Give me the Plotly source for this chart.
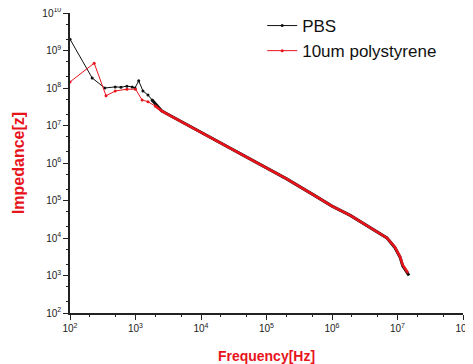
import plotly.graph_objects as go

# ---- data ----
freq_pbs = [100, 218, 340, 490, 600, 740, 890, 980, 1120, 1300, 1550, 1790,
            2500, 3162, 5000, 1e4, 2e4, 5e4, 1e5, 2e5, 5e5, 1e6, 1.9e6,
            3.8e6, 6.9e6, 9.1e6, 1.1e7, 1.2e7, 1.4e7, 1.5e7]
z_pbs = [2.0e9, 1.85e8, 1.0e8, 1.07e8, 1.05e8, 1.12e8, 1.07e8, 1.0e8, 1.55e8,
         8.3e7, 6.5e7, 4.8e7,
         2.46e7, 1.96e7, 1.27e7, 6.58e6, 3.40e6, 1.43e6, 7.38e5, 3.82e5,
         1.48e5, 7.1e4, 4.0e4, 1.95e4, 1.0e4, 5.6e3, 3.0e3, 1.8e3, 1.2e3, 1.0e3]

freq_ps = [100, 234, 355, 490, 740, 1000, 1260, 1550, 2000,
           2500, 3162, 5000, 1e4, 2e4, 5e4, 1e5, 2e5, 5e5, 1e6, 1.9e6,
           3.8e6, 6.9e6, 9.1e6, 1.1e7, 1.2e7, 1.45e7]
z_ps = [1.45e8, 4.6e8, 6.2e7, 8.3e7, 9.3e7, 9.3e7, 4.8e7, 4.3e7, 3.3e7,
        2.46e7, 1.96e7, 1.27e7, 6.58e6, 3.40e6, 1.43e6, 7.38e5, 3.82e5,
        1.48e5, 7.1e4, 4.0e4, 1.95e4, 1.0e4, 5.75e3, 3.1e3, 1.9e3, 1.17e3]

series_names = ["PBS", "10um polystyrene"]
x_tickvals = [1e2, 1e3, 1e4, 1e5, 1e6, 1e7, 1e8]
x_ticktext = ["10<sup>2</sup>", "10<sup>3</sup>", "10<sup>4</sup>", "10<sup>5</sup>",
              "10<sup>6</sup>", "10<sup>7</sup>", "10<sup>8</sup>"]
y_tickvals = [1e2, 1e3, 1e4, 1e5, 1e6, 1e7, 1e8, 1e9, 1e10]
y_ticktext = ["10<sup>2</sup>", "10<sup>3</sup>", "10<sup>4</sup>", "10<sup>5</sup>",
              "10<sup>6</sup>", "10<sup>7</sup>", "10<sup>8</sup>", "10<sup>9</sup>",
              "10<sup>10</sup>"]

BLACK = "#111111"
RED = "#e8141c"
FONT = "Liberation Sans, Arial, sans-serif"

fig = go.Figure()

def add_series(freq, z, name, color, split, dense_width):
    # sparse low-frequency part (thin line with dots)
    fig.add_trace(go.Scatter(
        x=freq[:split + 1], y=z[:split + 1], name=name, mode="lines+markers",
        line=dict(color=color, width=1), marker=dict(color=color, size=3),
        legendgroup=name, showlegend=True))
    # densely sampled part (appears as a thick line)
    fig.add_trace(go.Scatter(
        x=freq[split:], y=z[split:], name=name, mode="lines",
        line=dict(color=color, width=dense_width),
        legendgroup=name, showlegend=False))

add_series(freq_pbs, z_pbs, series_names[0], BLACK, 11, 3.0)
add_series(freq_ps, z_ps, series_names[1], RED, 8, 2.6)

axis_common = dict(
    type="log", showline=True, linecolor="#222", linewidth=1.5,
    ticks="outside", ticklen=5, tickwidth=1, tickcolor="#222",
    showgrid=False, zeroline=False, mirror=False, automargin=False,
    ticklabeloverflow="allow",
    tickfont=dict(family=FONT, size=10, color="#222"),
    minor=dict(ticks="outside", ticklen=2.5, tickwidth=1, tickcolor="#222",
               showgrid=False),
)

fig.update_xaxes(**axis_common, range=[2, 8], tickvals=x_tickvals, ticktext=x_ticktext,
                 title=dict(text="<b>Frequency[Hz]</b>",
                            font=dict(family=FONT, size=14, color=RED), standoff=18))
fig.update_yaxes(**axis_common, range=[2, 10], tickvals=y_tickvals, ticktext=y_ticktext,
                 domain=[0, 0.9836],
                 title=dict(text="<b>Impedance[z]</b>",
                            font=dict(family=FONT, size=16, color=RED), standoff=14))

# the page adds an 8px body margin, so the figure is sized to compensate
fig.update_layout(
    width=465, height=356,
    margin=dict(l=62, r=10, t=0, b=51),
    paper_bgcolor="white", plot_bgcolor="white",
    showlegend=True,
    legend=dict(x=0.489, y=1.0, xanchor="left", yanchor="top",
                bgcolor="rgba(0,0,0,0)", font=dict(family=FONT, size=17, color="#111"),
                tracegroupgap=0, itemwidth=30),
)

fig.write_html("out.html")
